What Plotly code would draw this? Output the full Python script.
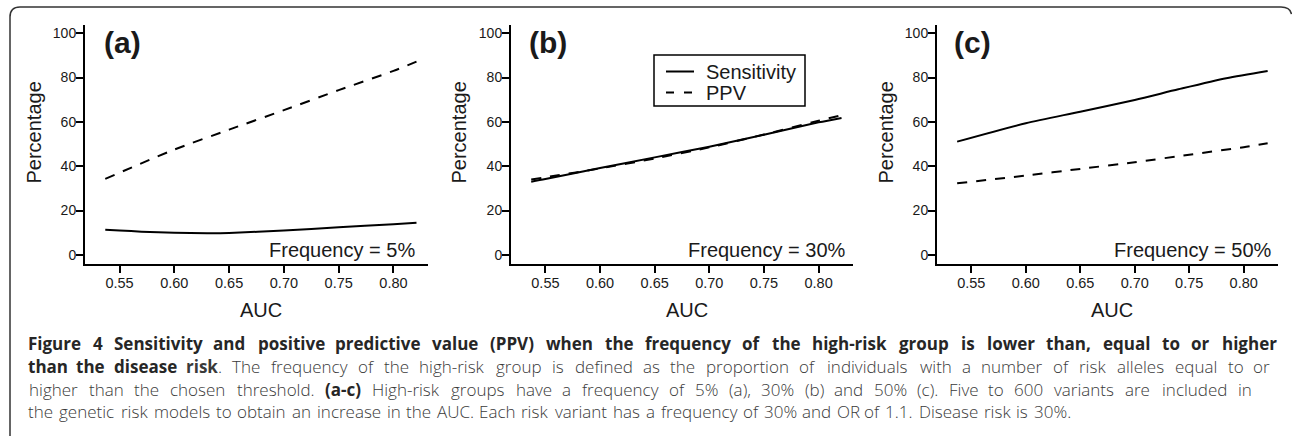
import plotly.graph_objects as go

W, H = 1292, 441

# ---- data ----
auc_a = [0.537, 0.55, 0.57, 0.60, 0.63, 0.65, 0.70, 0.75, 0.80, 0.821]
sens_a = [11.3, 11.0, 10.5, 10.0, 9.8, 9.9, 11.0, 12.5, 13.8, 14.5]
ppv_a_x = [0.537, 0.60, 0.65, 0.70, 0.75, 0.80, 0.821]
ppv_a = [34.3, 47.5, 56.5, 65.3, 74.3, 83.0, 87.2]

auc_b = [0.537, 0.55, 0.60, 0.65, 0.70, 0.75, 0.80, 0.821]
sens_b = [33.0, 34.2, 39.2, 44.0, 48.8, 54.2, 59.8, 61.8]
ppv_b = [34.0, 35.0, 39.0, 43.5, 48.5, 54.3, 60.5, 63.0]

auc_c_sens = [0.537, 0.60, 0.65, 0.70, 0.74, 0.784, 0.822]
sens_c = [51.1, 59.4, 64.6, 69.9, 74.7, 79.7, 83.0]
auc_c_ppv = [0.537, 0.60, 0.65, 0.70, 0.75, 0.80, 0.822]
ppv_c = [32.3, 35.8, 38.8, 41.8, 45.2, 48.6, 50.4]

panel_labels = ["(a)", "(b)", "(c)"]
freq_labels = ["Frequency = 5%", "Frequency = 30%", "Frequency = 50%"]
x_ticks = [0.55, 0.60, 0.65, 0.70, 0.75, 0.80]
y_ticks = [0, 20, 40, 60, 80, 100]
series_names = ["Sensitivity", "PPV"]

# caption: runs of (text, bold) per printed line
caption_runs = [
    [("Figure 4 Sensitivity and positive predictive value (PPV) when the frequency of the high-risk group is lower than, equal to or higher", True)],
    [("than the disease risk", True),
     (". The frequency of the high-risk group is defined as the proportion of individuals with a number of risk alleles equal to or", False)],
    [("higher than the chosen threshold. ", False), ("(a-c)", True),
     (" High-risk groups have a frequency of 5% (a), 30% (b) and 50% (c). Five to 600 variants are included in", False)],
    [("the genetic risk models to obtain an increase in the AUC. Each risk variant has a frequency of 30% and OR of 1.1. Disease risk is 30%.", False)],
]
caption_right = [1277, 1270, 1252, None]   # justified line ends (px); None = natural

# ---- layout helpers ----
def px(x):
    return x / W

def py(y):
    return 1 - y / H

FONT = "Liberation Sans, Arial, Helvetica, sans-serif"
CAP_FONT = "Open Sans, sans-serif"
CAP_SIZE = 17
TXT = "#1a1a1a"
panels_px = [(85, 428), (511, 853), (937, 1278)]
y_top, y_bot = 25, 264
xr = [0.5185, 0.8315]
yr = [-4.1, 103.7]

# approximate Open Sans advance widths (units of 1/2048 em) for caption layout
ADV = {' ': 532, '!': 547, '%': 1700, '(': 606, ')': 606, ',': 502, '-': 659, '.': 545,
       ':': 545, '0': 1171, '1': 1171, '2': 1171, '3': 1171, '4': 1171, '5': 1171, '6': 1171,
       '7': 1171, '8': 1171, '9': 1171,
       'A': 1292, 'B': 1323, 'C': 1276, 'D': 1473, 'E': 1130, 'F': 1036, 'G': 1473, 'H': 1497,
       'I': 604, 'O': 1584, 'P': 1233, 'R': 1261, 'S': 1110, 'T': 1128, 'U': 1503, 'V': 1212,
       'a': 1139, 'b': 1255, 'c': 975, 'd': 1255, 'e': 1149, 'f': 694, 'g': 1122, 'h': 1257,
       'i': 518, 'j': 518, 'k': 1075, 'l': 518, 'm': 1905, 'n': 1257, 'o': 1237, 'p': 1255,
       'q': 1255, 'r': 836, 's': 977, 't': 723, 'u': 1257, 'v': 1026, 'w': 1593, 'x': 1073,
       'y': 1028, 'z': 977}

def text_w(chars):
    tot = 0.0
    for ch, b in chars:
        tot += ADV.get(ch, 1150) * (1.08 if b else 1.0)
    return tot * CAP_SIZE / 2048

fig = go.Figure()

data = [
    (auc_a, sens_a, ppv_a_x, ppv_a),
    (auc_b, sens_b, auc_b, ppv_b),
    (auc_c_sens, sens_c, auc_c_ppv, ppv_c),
]

for i, (xs, ys, xp, yp) in enumerate(data):
    ax = "" if i == 0 else str(i + 1)
    fig.add_trace(go.Scatter(x=xs, y=ys, mode="lines", name=series_names[0],
                             line=dict(color="black", width=2, shape="spline", smoothing=0.7),
                             xaxis="x" + ax, yaxis="y" + ax, showlegend=False, hoverinfo="skip"))
    fig.add_trace(go.Scatter(x=xp, y=yp, mode="lines", name=series_names[1],
                             line=dict(color="black", width=2, dash="10px,9px", shape="spline", smoothing=0.7),
                             xaxis="x" + ax, yaxis="y" + ax, showlegend=False, hoverinfo="skip"))

axis_common = dict(showline=True, linecolor="black", linewidth=2, ticks="outside",
                   ticklen=7, tickwidth=2, tickcolor="black", showgrid=False,
                   zeroline=False)

for i, (l, r) in enumerate(panels_px):
    sfx = "" if i == 0 else str(i + 1)
    fig.update_layout(**{
        "xaxis" + sfx: dict(axis_common, domain=[px(l), px(r)], range=xr,
                            anchor="y" + sfx, tickvals=x_ticks, tickformat=".2f",
                            ticklabelstandoff=-2,
                            tickfont=dict(family=FONT, size=14.5, color=TXT)),
        "yaxis" + sfx: dict(axis_common, domain=[py(y_bot), py(y_top)], range=yr,
                            anchor="x" + sfx, tickvals=y_ticks, ticklabelstandoff=-3,
                            tickfont=dict(family=FONT, size=14, color=TXT)),
    })

ann = []
ylab_x = [33, 458, 885]
auc_x = [260.7, 686.7, 1112.3]
lab_x = [102, 526.7, 951.7]
freq_r = [417, 848.3, 1274.3]
for i in range(3):
    ann.append(dict(x=px(ylab_x[i]), y=py(132.5), xref="paper", yref="paper", text="Percentage",
                    textangle=-90, showarrow=False, font=dict(family=FONT, size=20, color=TXT),
                    xanchor="center", yanchor="middle"))
    ann.append(dict(x=px(auc_x[i]), y=py(310), xref="paper", yref="paper", text="AUC",
                    showarrow=False, font=dict(family=FONT, size=20, color=TXT),
                    xanchor="center", yanchor="middle"))
    ann.append(dict(x=px(lab_x[i]), y=py(42), xref="paper", yref="paper", text="<b>" + panel_labels[i] + "</b>",
                    showarrow=False, font=dict(family=FONT, size=30, color=TXT),
                    xanchor="left", yanchor="middle"))
    ann.append(dict(x=px(freq_r[i]), y=py(250), xref="paper", yref="paper", text=freq_labels[i],
                    showarrow=False, font=dict(family=FONT, size=20, color=TXT),
                    xanchor="right", yanchor="middle"))

# legend of panel (b): box, samples and labels
leg_box = (654, 55, 805, 106)
leg_rows = [71.5, 92.5]
leg_dash = [None, "8px,10px"]
for k, name in enumerate(series_names):
    ann.append(dict(x=px(704), y=py(leg_rows[k]), xref="paper", yref="paper", text=name,
                    showarrow=False, font=dict(family=FONT, size=20, color=TXT),
                    xanchor="left", yanchor="middle"))

# caption, laid out word by word so that lines are justified like the original
cap_left = 28
cap_y = [343.5, 366, 389, 411.5]
for j, runs in enumerate(caption_runs):
    chars = [(ch, b) for t, b in runs for ch in t]
    words, cur = [], []
    for ch, b in chars:
        if ch == " ":
            if cur:
                words.append(cur)
            cur = []
        else:
            cur.append((ch, b))
    if cur:
        words.append(cur)
    widths = [text_w(wd) for wd in words]
    space = ADV[" "] * CAP_SIZE / 2048
    natural = sum(widths) + space * (len(words) - 1)
    if caption_right[j] is None:
        gap = space
    else:
        gap = space + (caption_right[j] - cap_left - natural) / (len(words) - 1)
    x = cap_left
    for wd, w in zip(words, widths):
        html, cb, buf = "", None, ""
        for ch, b in wd:
            if b != cb and buf:
                html += ("<b>" + buf + "</b>") if cb else buf
                buf = ""
            cb = b
            buf += ch
        html += ("<b>" + buf + "</b>") if cb else buf
        all_bold = all(b for _, b in wd)
        ann.append(dict(x=px(x + w / 2), y=py(cap_y[j]), xref="paper", yref="paper", text=html,
                        showarrow=False,
                        font=dict(family=CAP_FONT, size=CAP_SIZE,
                                  color="#262626" if all_bold else "#3a3a3a",
                                  weight=700 if all_bold else 300),
                        xanchor="center", yanchor="middle", borderpad=0))
        x += w + gap

# outer rounded frame (top and left edges visible)
def P(x, y):
    return f"{px(x):.5f},{py(y):.5f}"

frame = ("M " + P(10, 436) + " L " + P(10, 17) + " Q " + P(10, 7) + " " + P(20, 7) +
         " L " + P(1281, 7) + " Q " + P(1290, 7) + " " + P(1291.5, 14))
shapes = [dict(type="path", path=frame, xref="paper", yref="paper",
               line=dict(color="#333333", width=1.5)),
          dict(type="rect", xref="paper", yref="paper",
               x0=px(leg_box[0]), x1=px(leg_box[2]), y0=py(leg_box[3]), y1=py(leg_box[1]),
               line=dict(color="black", width=1.5), fillcolor="rgba(0,0,0,0)")]
for k in range(2):
    ln = dict(color="black", width=2)
    if leg_dash[k]:
        ln["dash"] = leg_dash[k]
    shapes.append(dict(type="line", xref="paper", yref="paper",
                       x0=px(666), x1=px(694), y0=py(leg_rows[k]), y1=py(leg_rows[k]), line=ln))

fig.update_layout(
    width=W, height=H, margin=dict(l=0, r=0, t=0, b=0, pad=0),
    paper_bgcolor="white", plot_bgcolor="white",
    annotations=ann, shapes=shapes, showlegend=False,
)

fig.write_html("out.html", config={"displayModeBar": False},
               post_script="document.body.style.margin='0px';")
